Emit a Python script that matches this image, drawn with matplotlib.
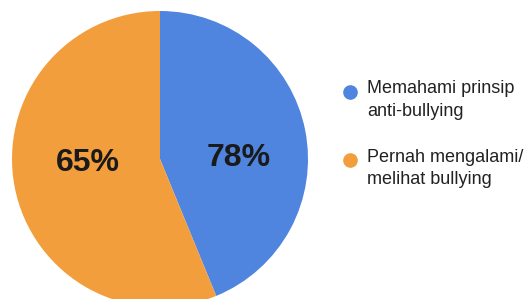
import matplotlib
matplotlib.use("Agg")
import matplotlib.pyplot as plt
from matplotlib.lines import Line2D

categories = ["Memahami prinsip\nanti-bullying", "Pernah mengalami/\nmelihat bullying"]
slice_sizes = [43.8, 56.2]
value_labels = ["78%", "65%"]
colors = ["#4F84DF", "#F29E3D"]

plt.rcParams['font.family'] = ['Liberation Sans', 'DejaVu Sans']

fig = plt.figure(figsize=(5.26, 2.99), dpi=100)
W, H = 526, 299
cx, cy, r = 160, 159, 148
ax = fig.add_axes([(cx - r) / W, (H - cy - r) / H, 2 * r / W, 2 * r / H])
ax.pie(slice_sizes, colors=colors, startangle=90, counterclock=False, radius=1,
       wedgeprops=dict(linewidth=0))
ax.set_xlim(-1, 1)
ax.set_ylim(-1, 1)
ax.set_aspect('auto')
ax.axis('off')

label_pos = [(0.535, 0.005), (-0.485, -0.03)]
for (x, y), t in zip(label_pos, value_labels):
    ax.text(x, y, t, ha='center', va='center', fontsize=23, fontweight='bold', color='#1a1a1a')

# legend drawn manually
marker_y = [92, 160]
text_y = [100, 168.5]
for c, lab, my, ty in zip(colors, categories, marker_y, text_y):
    fig.add_artist(Line2D([350 / W], [1 - my / H], marker='o', linestyle='none',
                          markersize=9.5, markerfacecolor=c, markeredgecolor=c,
                          transform=fig.transFigure))
    fig.text(367 / W, 1 - ty / H, lab, ha='left', va='center', fontsize=13,
             color='#222222', linespacing=1.4)

fig.savefig("out.png", dpi=100)
